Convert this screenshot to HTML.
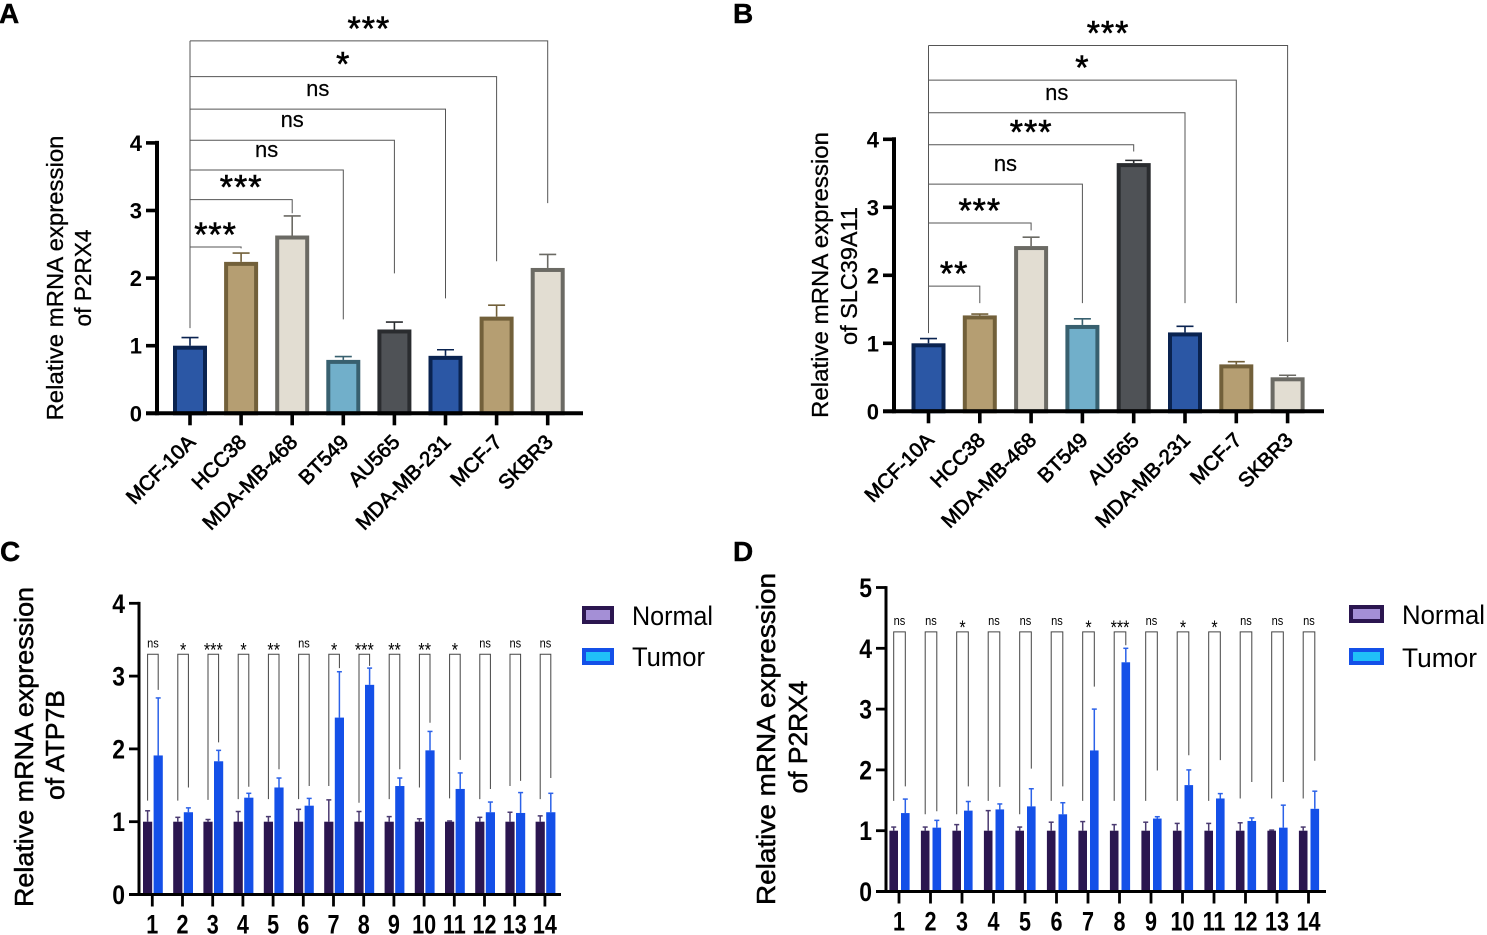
<!DOCTYPE html>
<html lang="en">
<head>
<meta charset="utf-8">
<title>Relative mRNA expression panels</title>
<style>
html,body{margin:0;padding:0;background:#fff;width:1487px;height:935px;overflow:hidden}
svg{display:block;font-family:"Liberation Sans",sans-serif}
</style>
</head>
<body>
<svg id="figure" xmlns="http://www.w3.org/2000/svg" width="1487" height="935" viewBox="0 0 1487 935">
  <text x="-1" y="23" font-size="28" font-weight="bold" stroke="#000" stroke-width=".4">A</text>
  <text x="733" y="23" font-size="28" font-weight="bold" stroke="#000" stroke-width=".4">B</text>
  <text x="0" y="561" font-size="28" font-weight="bold" stroke="#000" stroke-width=".4">C</text>
  <text x="733" y="561" font-size="28" font-weight="bold" stroke="#000" stroke-width=".4">D</text>

  <text transform="translate(63,278) rotate(-90)" text-anchor="middle" font-size="23" stroke="#000" stroke-width=".3" textLength="285" lengthAdjust="spacingAndGlyphs">Relative mRNA expression</text>
  <text transform="translate(91,278) rotate(-90)" text-anchor="middle" font-size="23" stroke="#000" stroke-width=".3" textLength="97" lengthAdjust="spacingAndGlyphs">of P2RX4</text>
  <text transform="translate(828,275) rotate(-90)" text-anchor="middle" font-size="23" stroke="#000" stroke-width=".3" textLength="286" lengthAdjust="spacingAndGlyphs">Relative mRNA expression</text>
  <text transform="translate(857,276) rotate(-90)" text-anchor="middle" font-size="23" stroke="#000" stroke-width=".3" textLength="138" lengthAdjust="spacingAndGlyphs">of SLC39A11</text>
  <text transform="translate(33,747) rotate(-90)" text-anchor="middle" font-size="26" stroke="#000" stroke-width=".5" textLength="320" lengthAdjust="spacingAndGlyphs">Relative mRNA expression</text>
  <text transform="translate(64,745) rotate(-90)" text-anchor="middle" font-size="26" stroke="#000" stroke-width=".5" textLength="110" lengthAdjust="spacingAndGlyphs">of ATP7B</text>
  <text transform="translate(775,739) rotate(-90)" text-anchor="middle" font-size="26" stroke="#000" stroke-width=".5" textLength="332" lengthAdjust="spacingAndGlyphs">Relative mRNA expression</text>
  <text transform="translate(807,737) rotate(-90)" text-anchor="middle" font-size="26" stroke="#000" stroke-width=".5" textLength="113" lengthAdjust="spacingAndGlyphs">of P2RX4</text>

  <g>
    <rect x="584" y="608" width="28" height="14" fill="#a48fd6" stroke="#2b1650" stroke-width="4"/>
    <text x="632" y="625" font-size="27" textLength="81" lengthAdjust="spacingAndGlyphs">Normal</text>
    <rect x="584" y="650" width="28" height="13" fill="#20c0f8" stroke="#1450e8" stroke-width="4"/>
    <text x="632" y="666" font-size="27" textLength="73" lengthAdjust="spacingAndGlyphs">Tumor</text>
  </g>
  <g>
    <rect x="1351" y="607" width="31" height="14" fill="#a48fd6" stroke="#2b1650" stroke-width="4"/>
    <text x="1402" y="624" font-size="27" textLength="83" lengthAdjust="spacingAndGlyphs">Normal</text>
    <rect x="1351" y="650" width="31" height="13" fill="#20c0f8" stroke="#1450e8" stroke-width="4"/>
    <text x="1402" y="667" font-size="27" textLength="75" lengthAdjust="spacingAndGlyphs">Tumor</text>
  </g>
</svg>
<script>
const cellLines = ['MCF-10A','HCC38','MDA-MB-468','BT549','AU565','MDA-MB-231','MCF-7','SKBR3'];
const barFills = ['#2b57a5','#b59e72','#e2ddd2','#71afca','#4f5256','#2b57a5','#b59e72','#e2ddd2'];
const barEdges = ['#0a2350','#72603a','#6b6a64','#38606f','#2a2c2f','#0a2350','#72603a','#6b6a64'];

const aValues = [1.0,2.24,2.63,0.79,1.24,0.85,1.43,2.15];
const aErrorTops = [1.12,2.37,2.92,0.84,1.35,0.94,1.60,2.35];
const aBracketTops = [null,2.46,3.16,3.60,4.04,4.50,4.98,5.51];
const aBracketEnds = [null,2.44,2.96,1.39,2.07,1.70,2.25,3.11];
const aLabels = [null,'***','***','ns','ns','ns','*','***'];
const aBracketStart = 1.26;
const aTicks = [0,1,2,3,4];

const bValues = [1.0,1.41,2.43,1.27,3.65,1.16,0.69,0.5];
const bErrorTops = [1.07,1.43,2.56,1.36,3.69,1.25,0.73,0.53];
const bBracketTops = [null,1.84,2.77,3.34,3.92,4.39,4.87,5.38];
const bBracketEnds = [null,1.59,2.66,1.59,3.82,1.59,1.59,1.02];
const bLabels = [null,'**','***','ns','***','ns','*','***'];
const bBracketStart = 1.15;
const bTicks = [0,1,2,3,4];

const groupNumbers = ['1','2','3','4','5','6','7','8','9','10','11','12','13','14'];

const cNormal = [1,1,1,1,1,1,1,1,1,1,1,1,1,1];
const cTumor = [1.91,1.13,1.83,1.33,1.47,1.22,2.43,2.88,1.49,1.98,1.45,1.13,1.12,1.13];
const cNormalErr = [1.15,1.06,1.03,1.14,1.07,1.17,1.30,1.14,1.07,1.04,1.01,1.06,1.13,1.08];
const cTumorErr = [2.70,1.19,1.98,1.39,1.60,1.32,3.06,3.11,1.60,2.24,1.67,1.27,1.40,1.39];
const cLeftEnds = [1.29,1.29,1.30,1.31,1.31,1.31,1.49,1.26,1.31,1.47,1.32,1.31,1.49,1.31];
const cRightEnds = [2.81,1.47,2.09,1.48,1.72,1.49,3.11,3.14,1.72,2.36,1.85,1.45,1.56,1.60];
const cLabels = ['ns','*','***','*','**','ns','*','***','**','**','*','ns','ns','ns'];
const cBracketTop = 3.30;
const cTicks = [0,1,2,3,4];

const dNormal = [1,1,1,1,1,1,1,1,1,1,1,1,1,1];
const dTumor = [1.29,1.05,1.33,1.35,1.40,1.27,2.32,3.77,1.20,1.75,1.53,1.16,1.05,1.36];
const dNormalErr = [1.06,1.06,1.10,1.33,1.06,1.14,1.15,1.10,1.14,1.12,1.12,1.13,1.01,1.06];
const dTumorErr = [1.52,1.17,1.48,1.44,1.69,1.46,3.00,4.00,1.23,2.00,1.61,1.21,1.42,1.65];
const dLeftEnds = [1.49,1.27,1.27,1.49,1.27,1.49,1.49,1.49,1.49,1.49,1.49,1.53,1.53,1.53];
const dRightEnds = [1.73,1.32,1.73,1.72,2.02,1.73,3.37,4.05,1.99,2.24,2.16,1.80,1.80,2.15];
const dLabels = ['ns','ns','*','ns','ns','ns','*','***','ns','*','*','ns','ns','ns'];
const dBracketTop = 4.27;
const dTicks = [0,1,2,3,4,5];

const svg = document.getElementById('figure');
const NS = 'http://www.w3.org/2000/svg';

function mk(parent, tag, attrs, txt) {
  const el = document.createElementNS(NS, tag);
  for (const k in attrs) el.setAttribute(k, attrs[k]);
  if (txt !== undefined) el.textContent = txt;
  parent.appendChild(el);
  return el;
}
function line(parent, x1, y1, x2, y2, stroke, w) {
  return mk(parent, 'line', {x1:x1, y1:y1, x2:x2, y2:y2, stroke:stroke, 'stroke-width':w});
}

function drawCellPanel(id, vals, errs, tops, ends, labels, start, ticks, g) {
  const x = i => g.x0 + i * g.step;
  const y = v => g.y0 - v * g.unit;
  const root = mk(svg, 'g', {});
  
  

  vals.forEach((v, i) => {
    const err = line(root, x(i), y(errs[i]), x(i), y(v), barEdges[i], 1.6);
    
    
    const cap = line(root, x(i) - 8.5, y(errs[i]), x(i) + 8.5, y(errs[i]), barEdges[i], 1.6);
    
    
    const bar = mk(root, 'rect', {x:x(i) - 15, y:y(v) + 2, width:30, height:Math.max(0, y(0) - y(v) - 2), fill:barFills[i], stroke:barEdges[i], 'stroke-width':4});
    
    
  });

  const maxTop = Math.max(...tops.filter(t => t !== null));
  const stem = line(root, x(0), y(start), x(0), y(maxTop), '#555', 1);
  
  
  tops.forEach((t, i) => {
    if (t === null) return;
    const br = mk(root, 'path', {d:'M' + x(0) + ' ' + y(t) + 'H' + x(i) + 'V' + y(ends[i]), fill:'none', stroke:'#555', 'stroke-width':1});
    
    
    const isNs = labels[i] === 'ns';
    const lab = mk(root, 'text', {x:(x(0) + x(i)) / 2, y:y(t) + (isNs ? -13 : -1), 'text-anchor':'middle', 'font-size':isNs ? 22 : 34, 'letter-spacing':isNs ? 0 : 1, stroke:'#000', 'stroke-width':isNs ? 0.2 : 0.6}, labels[i]);
    
    
  });

  const ya = line(root, g.axisX, y(ticks[ticks.length - 1]) - 2, g.axisX, y(0) + 2, '#000', 4);
  
  
  const xa = line(root, g.axisX - 11, y(0), g.xEnd, y(0), '#000', 4);
  
  
  ticks.forEach(t => {
    const tk = line(root, g.axisX - 11, y(t), g.axisX, y(t), '#000', 3.6);
    
    
    const tl = mk(root, 'text', {x:g.axisX - 15, y:y(t) + 8, 'text-anchor':'end', 'font-size':22, 'font-weight':'bold'}, t);
    
    
  });
  cellLines.forEach((c, i) => {
    const tk = line(root, x(i), y(0), x(i), y(0) + 12, '#000', 3.6);
    
    
    const tl = mk(root, 'text', {transform:'translate(' + (x(i) + 6.5) + ',' + (y(0) + 30) + ') rotate(-45)', 'text-anchor':'end', 'font-size':20.5, stroke:'#000', 'stroke-width':.7}, c);
    
    
  });
}

function drawGroupPanel(id, normal, tumor, nErr, tErr, lEnds, rEnds, labels, top, ticks, g) {
  const x = i => g.x0 + i * g.step;
  const y = v => g.y0 - v * g.unit;
  const root = mk(svg, 'g', {});
  
  
  const NORMAL = '#2b1650', TUMOR = '#1450e8';

  groupNumbers.forEach((n, i) => {
    const nx = x(i) - g.off1, tx = x(i) + g.off2;
    const e1 = line(root, nx, y(nErr[i]), nx, y(normal[i]), '#4a3a70', 1.5);
    
    
    const c1 = line(root, nx - 2.5, y(nErr[i]), nx + 2.5, y(nErr[i]), '#4a3a70', 1.5);
    
    
    const e2 = line(root, tx, y(tErr[i]), tx, y(tumor[i]), '#2c62e8', 1.5);
    
    
    const c2 = line(root, tx - 2.5, y(tErr[i]), tx + 2.5, y(tErr[i]), '#2c62e8', 1.5);
    
    
    const b1 = mk(root, 'rect', {x:nx - g.bw / 2, y:y(normal[i]), width:g.bw, height:y(0) - y(normal[i]), fill:NORMAL});
    
    
    const b2 = mk(root, 'rect', {x:tx - g.bw / 2, y:y(tumor[i]), width:g.bw, height:y(0) - y(tumor[i]), fill:TUMOR});
    
    
    const br = mk(root, 'path', {d:'M' + nx + ' ' + y(lEnds[i]) + 'V' + y(top) + 'H' + tx + 'V' + y(rEnds[i]), fill:'none', stroke:'#444', 'stroke-width':1});
    
    
    const isNs = labels[i] === 'ns';
    const lab = mk(root, 'text', {transform:'translate(' + (nx + tx) / 2 + ',' + (y(top) + (isNs ? -7 : 2)) + ') scale(.85,1)', 'text-anchor':'middle', 'font-size':isNs ? 13 : 19}, labels[i]);
    
    
    const tk = line(root, x(i), y(0), x(i), y(0) + 12, '#000', 2.8);
    
    
    const tl = mk(root, 'text', {transform:'translate(' + x(i) + ',' + (y(0) + 39) + ') scale(.8,1)', 'text-anchor':'middle', 'font-size':27, 'font-weight':'bold'}, n);
    
    
  });

  const ya = line(root, g.axisX, y(ticks[ticks.length - 1]) - 1.4, g.axisX, y(0) + 1.4, '#000', 3);
  
  
  const xa = line(root, g.axisX - 10, y(0), g.xEnd, y(0), '#000', 3);
  
  
  ticks.forEach(t => {
    const tk = line(root, g.axisX - 10, y(t), g.axisX, y(t), '#000', 2.8);
    
    
    const tl = mk(root, 'text', {transform:'translate(' + (g.axisX - 14) + ',' + (y(t) + 9.5) + ') scale(.85,1)', 'text-anchor':'end', 'font-size':27, 'font-weight':'bold'}, t);
    
    
  });
}

drawCellPanel('a', aValues, aErrorTops, aBracketTops, aBracketEnds, aLabels, aBracketStart, aTicks,
  {x0:190, step:51.1, y0:413.3, unit:67.6, axisX:157, xEnd:583});
drawCellPanel('b', bValues, bErrorTops, bBracketTops, bBracketEnds, bLabels, bBracketStart, bTicks,
  {x0:928.5, step:51.3, y0:411.3, unit:68, axisX:894, xEnd:1324});
drawGroupPanel('c', cNormal, cTumor, cNormalErr, cTumorErr, cLeftEnds, cRightEnds, cLabels, cBracketTop, cTicks,
  {x0:152.3, step:30.2, y0:894.5, unit:72.8, axisX:139, xEnd:561, off1:4.7, off2:5.9, bw:9.2});
drawGroupPanel('d', dNormal, dTumor, dNormalErr, dTumorErr, dLeftEnds, dRightEnds, dLabels, dBracketTop, dTicks,
  {x0:899, step:31.5, y0:891.5, unit:60.8, axisX:886, xEnd:1326, off1:5.3, off2:6.3, bw:8.6});
</script>
</body>
</html>
